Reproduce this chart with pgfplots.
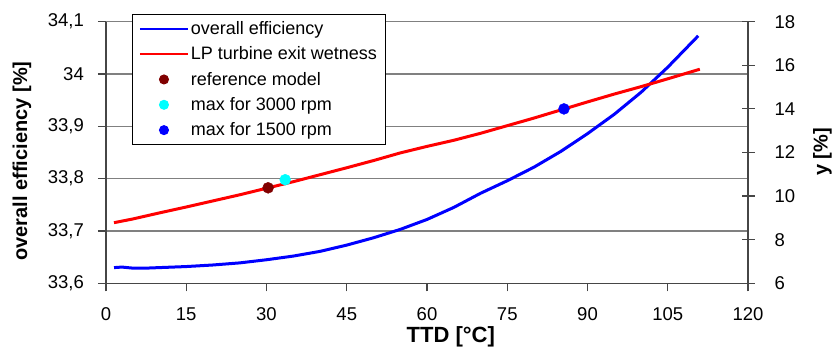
\documentclass[border=0pt]{standalone}
\usepackage{fontspec}
\setmainfont{Liberation Sans}
\usepackage{pgfplots}
\pgfplotsset{compat=1.18}
\definecolor{axgray}{RGB}{70,70,70}
\definecolor{gridgray}{RGB}{128,128,128}
\definecolor{darkred}{RGB}{128,0,0}
\definecolor{cyanpt}{RGB}{0,255,255}
\definecolor{bluept}{RGB}{0,0,255}
\begin{document}
\begin{tikzpicture}
\pgfplotsset{
  common/.style={
    width=642pt, height=261.6pt, scale only axis,
    xmin=0, xmax=120,
    /pgf/number format/assume math mode=true,
    ticklabel style={font=\fontsize{18.5}{22}\selectfont, text=black},
    axis line style={axgray, line width=1.2pt},
    every tick/.style={axgray, line width=1.2pt},
  },
  linelegend/.style={legend image code/.code={\draw[##1, line width=1.6pt] (0pt,0pt) -- (48pt,0pt);}},
  marklegend/.style={legend image code/.code={\draw[mark repeat=2, mark phase=2, ##1, mark size=4.5pt] plot coordinates {(0pt,0pt) (24pt,0pt) (48pt,0pt)};}},
}
% left axis: overall efficiency
\begin{axis}[common,
  axis y line*=left, axis x line*=bottom,
  ymin=33.6, ymax=34.1, ytick={33.6,33.7,33.8,33.9,34.0,34.1},
  xtick={0,15,...,120},
  tick align=outside, major tick length=8pt,
  ymajorgrids, major grid style={gridgray, line width=1.2pt},
  yticklabel style={anchor=east, inner sep=0pt, xshift=-14pt, /pgf/number format/.cd, fixed, precision=1, use comma},
  xticklabel style={anchor=center, inner sep=0pt, yshift=-23pt},
  xlabel={TTD [°C]}, ylabel={overall efficiency [\%]},
  x label style={font=\fontsize{22}{24}\selectfont\bfseries, at={(axis description cs:0.537,-0.206)}, anchor=center, inner sep=0pt},
  y label style={font=\fontsize{20}{24}\selectfont\bfseries, at={(axis description cs:-0.131,0.4675)}, anchor=center, inner sep=0pt},
]
\addplot[bluept, line width=3pt] coordinates {
(1.5,33.630) (3,33.631) (5,33.629) (7.5,33.629) (10,33.630) (12.5,33.631) (15,33.632) (20,33.635) (25,33.639) (30,33.645) (35,33.652) (40,33.661) (45,33.673) (50,33.687) (55,33.703) (60,33.722) (65,33.745) (70,33.772) (75,33.796) (80,33.822) (85,33.852) (90,33.886) (95,33.923) (100,33.965) (105,34.013) (110.7,34.073)
};
\end{axis}
% right axis: wetness
\begin{axis}[common,
  axis y line*=right, axis x line=none,
  ymin=6, ymax=18, ytick={6,8,...,18},
  tick align=center, major tick length=13pt,
  yticklabel style={anchor=west, inner sep=0pt, xshift=20pt},
  ylabel={y [\%]},
  y label style={font=\fontsize{20}{24}\selectfont\bfseries, at={(axis description cs:1.116,0.502)}, anchor=center, inner sep=0pt},
  legend cell align=left,
  legend style={at={(axis description cs:0.04,1.0294)}, anchor=north west,
    draw=black, line width=1pt, fill=white,
    font=\fontsize{18}{21}\selectfont,
    inner xsep=7pt, inner ysep=5pt, row sep=6.8pt,
    nodes={inner sep=2pt}},
]
\addlegendimage{bluept, line width=3pt, linelegend}
\addlegendentry{overall efficiency}
\addplot[red, line width=3pt, linelegend] coordinates {
(1.5,8.78) (5,8.95) (10,9.23) (15,9.50) (20,9.78) (25,10.06) (30,10.36) (35,10.66) (40,10.98) (45,11.30) (50,11.63) (55,11.98) (60,12.28) (65,12.56) (70,12.88) (75,13.23) (80,13.58) (85,13.95) (90,14.32) (95,14.68) (100,15.02) (105,15.38) (111,15.82)
};
\addlegendentry{LP turbine exit wetness}
\addplot[only marks, mark=*, mark size=5.5pt, darkred, marklegend] coordinates {(30.3,10.38)};
\addlegendentry{reference model}
\addplot[only marks, mark=*, mark size=5.5pt, cyanpt, marklegend] coordinates {(33.5,10.75)};
\addlegendentry{max for 3000 rpm}
\addplot[only marks, mark=*, mark size=5.5pt, bluept, marklegend] coordinates {(85.6,14.0)};
\addlegendentry{max for 1500 rpm}
\end{axis}
\pgfresetboundingbox
\path[use as bounding box] (-106pt,-63.7pt) rectangle (728pt,283.3pt);
\end{tikzpicture}
\end{document}
